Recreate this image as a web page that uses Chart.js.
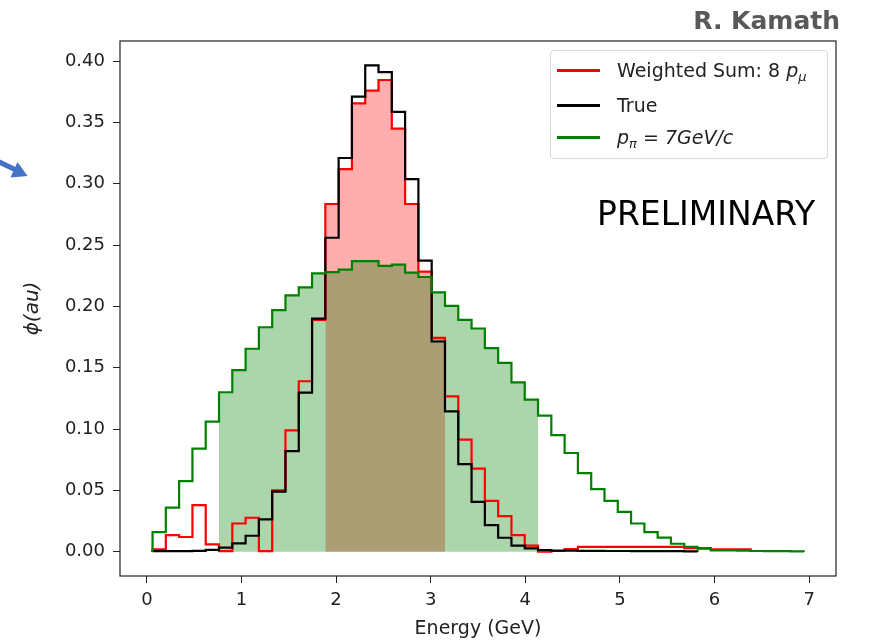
<!DOCTYPE html>
<html>
<head>
<meta charset="utf-8">
<script src="https://cdn.jsdelivr.net/npm/chart.js@4.4.1/dist/chart.umd.min.js"></script>
<style>
  body { margin: 0; background: #fff; }
  #wrap { position: relative; width: 869px; height: 640px; }
  .legend { position: absolute; left: 550px; top: 50px; width: 276px; height: 107px;
            border: 1px solid #d6d6d6; border-radius: 4px; background: rgba(255,255,255,0.85);
            font-family: 'DejaVu Sans'; font-size: 19px; color: #222; }
  .row { position: absolute; left: 6px; height: 20px; width: 265px; }
  .swatch { position: absolute; left: 0; top: 9px; width: 43px; height: 2.5px; }
  .lbl { position: absolute; left: 60px; top: 0; line-height: 20px; white-space: nowrap; }
  .lbl sub { font-size: 13px; vertical-align: -4px; line-height: 0; }
</style>
</head>
<body>
<div id="wrap">
  <canvas id="myChart" width="869" height="640"></canvas>
  <div class="legend">
    <div class="row" style="top:9px"><div class="swatch" style="background:#ff0000"></div>
      <div class="lbl">Weighted Sum: 8 <i>p</i><sub><i>μ</i></sub></div></div>
    <div class="row" style="top:44px"><div class="swatch" style="background:#000"></div>
      <div class="lbl">True</div></div>
    <div class="row" style="top:76px"><div class="swatch" style="background:#008000"></div>
      <div class="lbl"><i>p</i><sub><i>π</i></sub> = <i>7GeV/c</i></div></div>
  </div>
</div>
<script>
// histogram binning (same bins for all three)
const binStart = 0.06;
const binWidth = 0.1405;

// p_pi = 7 GeV/c
const greenVals = [0.016, 0.036, 0.0575, 0.084, 0.106, 0.130, 0.148, 0.1655, 0.183, 0.197,
  0.209, 0.2155, 0.227, 0.228, 0.230, 0.237, 0.237, 0.233, 0.234, 0.2275,
  0.224, 0.2115, 0.2005, 0.189, 0.182, 0.166, 0.154, 0.138, 0.124, 0.111,
  0.095, 0.0805, 0.064, 0.051, 0.0415, 0.0325, 0.023, 0.016, 0.0115, 0.0065,
  0.004, 0.0025, 0.001, 0.001, 0.0008, 0.0006, 0.0005, 0.0004, 0.0003];

// weighted sum of 8 p_mu
const redVals = [0.002, 0.0136, 0.012, 0.038, 0.006, 0.0005, 0.023, 0.0277, 0.0005, 0.050,
  0.099, 0.139, 0.189, 0.2835, 0.312, 0.3656, 0.376, 0.3846, 0.345, 0.2835,
  0.2284, 0.1744, 0.1267, 0.0914, 0.0678, 0.0415, 0.029, 0.0136, 0.0049, 0.0,
  0.0006, 0.0022, 0.004, 0.004, 0.004, 0.004, 0.004, 0.004, 0.004, 0.004,
  0.003, 0.003, 0.002, 0.002, 0.002];

// true spectrum
const blackVals = [0.0005, 0.0005, 0.0005, 0.0007, 0.0015, 0.0033, 0.0068, 0.013, 0.0264, 0.049,
  0.082, 0.1297, 0.190, 0.256, 0.321, 0.371, 0.3966, 0.391, 0.3586, 0.3038,
  0.2373, 0.1714, 0.1145, 0.0714, 0.0407, 0.0217, 0.0114, 0.0049, 0.0027, 0.0014,
  0.0009, 0.0008, 0.0007, 0.0007, 0.0006, 0.0006, 0.0005, 0.0005, 0.0004, 0.0004, 0.0003];

// shaded bin ranges [first, end)
const greenFillBins = [5, 29];
const redFillBins = [13, 22];

const xTicks = [0, 1, 2, 3, 4, 5, 6, 7];
const yTicks = [0, 0.05, 0.10, 0.15, 0.20, 0.25, 0.30, 0.35, 0.40];

const edge = i => binStart + i * binWidth;

function stepPoints(vals, from = 0, to = vals.length) {
  const pts = [{ x: edge(from), y: 0 }];
  for (let i = from; i < to; i++) {
    pts.push({ x: edge(i), y: vals[i] }, { x: edge(i + 1), y: vals[i] });
  }
  pts.push({ x: edge(to), y: 0 });
  return pts;
}

const lineDefaults = { fill: false, pointRadius: 0, borderWidth: 2.2, tension: 0, borderJoinStyle: 'miter' };

const decor = {
  id: 'decor',
  afterDraw(chart) {
    const { ctx, chartArea: a } = chart;
    ctx.save();
    ctx.strokeStyle = '#222';
    ctx.lineWidth = 1.2;
    ctx.strokeRect(a.left, a.top, a.right - a.left, a.bottom - a.top);

    ctx.fillStyle = '#000';
    ctx.font = '33px "DejaVu Sans"';
    ctx.textBaseline = 'alphabetic';
    ctx.fillText('PRELIMINARY', 597, 225);

    ctx.fillStyle = '#595959';
    ctx.font = 'bold 25px "DejaVu Sans"';
    ctx.textAlign = 'right';
    ctx.fillText('R. Kamath', 840, 29);

    // blue arrow cut off at the left edge
    ctx.strokeStyle = '#4472c4';
    ctx.fillStyle = '#4472c4';
    ctx.lineWidth = 5;
    ctx.beginPath();
    ctx.moveTo(-5, 160);
    ctx.lineTo(15, 169.5);
    ctx.stroke();
    ctx.beginPath();
    ctx.moveTo(27.5, 176);
    ctx.lineTo(17.5, 162);
    ctx.lineTo(10.5, 177.5);
    ctx.closePath();
    ctx.fill();
    ctx.restore();
  }
};

new Chart(document.getElementById('myChart'), {
  type: 'line',
  data: {
    datasets: [
      { ...lineDefaults, label: 'p_pi = 7GeV/c', data: stepPoints(greenVals), borderColor: '#008000', order: 1 },
      { ...lineDefaults, label: 'True', data: stepPoints(blackVals), borderColor: '#000000', order: 2 },
      { ...lineDefaults, label: 'Weighted Sum: 8 p_mu', data: stepPoints(redVals), borderColor: '#ff0000', order: 3 },
      { label: 'green fill', data: stepPoints(greenVals, greenFillBins[0], greenFillBins[1]),
        fill: 'origin', backgroundColor: 'rgba(0,128,0,0.33)', borderWidth: 0, pointRadius: 0, order: 4 },
      { label: 'red fill', data: stepPoints(redVals, redFillBins[0], redFillBins[1]),
        fill: 'origin', backgroundColor: 'rgba(255,0,0,0.32)', borderWidth: 0, pointRadius: 0, order: 5 }
    ]
  },
  options: {
    responsive: false,
    animation: false,
    layout: { padding: { top: 41, right: 33, left: 0, bottom: 0 } },
    plugins: { legend: { display: false }, tooltip: { enabled: false } },
    scales: {
      x: {
        type: 'linear',
        min: -0.284,
        max: 7.284,
        afterFit: s => { s.height = 64; },
        afterBuildTicks: s => { s.ticks = xTicks.map(v => ({ value: v })); },
        border: { display: false },
        grid: { drawOnChartArea: false, drawTicks: true, tickLength: 7, tickColor: '#222' },
        ticks: { color: '#222', padding: 7, font: { family: 'DejaVu Sans', size: 18 }, maxRotation: 0 },
        title: { display: true, text: 'Energy (GeV)', color: '#222', padding: { top: 0, bottom: 0 },
                 font: { family: 'DejaVu Sans', size: 19 } }
      },
      y: {
        min: -0.0198,
        max: 0.4164,
        afterFit: s => { s.width = 120; },
        afterBuildTicks: s => { s.ticks = yTicks.map(v => ({ value: v })); },
        border: { display: false },
        grid: { drawOnChartArea: false, drawTicks: true, tickLength: 7, tickColor: '#222' },
        ticks: { color: '#222', padding: 8, font: { family: 'DejaVu Sans', size: 18 },
                 callback: v => v.toFixed(2) },
        title: { display: true, text: 'ϕ(au)', color: '#222', padding: { top: 21, bottom: 0 },
                 font: { family: 'DejaVu Sans', size: 20, style: 'italic' } }
      }
    }
  },
  plugins: [decor]
});
</script>
</body>
</html>
